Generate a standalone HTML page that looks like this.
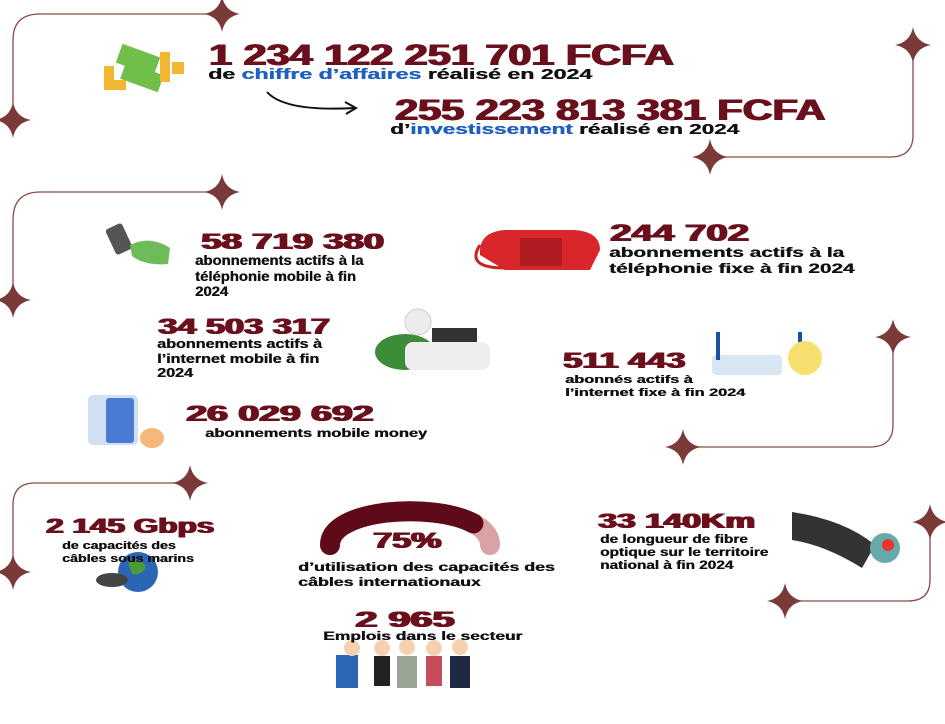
<!DOCTYPE html>
<html><head><meta charset="utf-8"><style>
body{margin:0;width:945px;height:724px;background:#fff;position:relative;overflow:hidden;font-family:"Liberation Sans",sans-serif;font-weight:bold}
.t,.n{position:absolute;white-space:nowrap;transform-origin:left top;line-height:1}
.t{color:#111;text-shadow:0.4px 0 0 #111}
.n{color:#6a0f1c;text-shadow:1px 0 0 #6a0f1c,1.6px 0 0 #6a0f1c}
.b{color:#1f5fbf;text-shadow:0.4px 0 0 #1f5fbf}
svg{position:absolute;left:0;top:0}
</style></head><body>
<svg width="945" height="724">
<defs><path id="s" d="M0,-18 Q2.8,-2.8 18,0 Q2.8,2.8 0,18 Q-2.8,2.8 -18,0 Q-2.8,-2.8 0,-18Z" fill="#7a3a38"/></defs>
<g fill="none" stroke="#8a4a48" stroke-width="1.3">
<path d="M222,14 H40 Q13,14 13,40 V120"/>
<path d="M913,45 V135 Q913,157 890,157 H710"/>
<path d="M222,192 H40 Q13,192 13,220 V300"/>
<path d="M893,337 V425 Q893,447 870,447 H683"/>
<path d="M190,483 H35 Q13,483 13,505 V572"/>
<path d="M930,522 V580 Q930,601 908,601 H785"/>
<path d="M267,92 Q285,112 355,108" stroke="#111" stroke-width="2"/>
<path d="M345,102 L356,108 L346,114" stroke="#111" stroke-width="2"/>
</g>
<use href="#s" x="222" y="14"/><use href="#s" x="13" y="120"/>
<use href="#s" x="913" y="45"/><use href="#s" x="710" y="157"/>
<use href="#s" x="222" y="192"/><use href="#s" x="13" y="300"/>
<use href="#s" x="893" y="337"/><use href="#s" x="683" y="447"/>
<use href="#s" x="190" y="483"/><use href="#s" x="13" y="572"/>
<use href="#s" x="930" y="522"/><use href="#s" x="785" y="601"/>
<!-- money -->
<rect x="118" y="50" width="40" height="20" fill="#6fbf4a" transform="rotate(20 138 60)"/>
<rect x="122" y="68" width="40" height="18" fill="#6fbf4a" transform="rotate(20 142 77)"/>
<rect x="160" y="52" width="10" height="30" fill="#f2b632"/><rect x="172" y="62" width="12" height="12" fill="#f2b632"/>
<rect x="104" y="66" width="10" height="24" fill="#f2b632"/><rect x="112" y="80" width="14" height="10" fill="#f2b632"/>
<!-- hand phone -->
<rect x="110" y="225" width="18" height="28" rx="3" fill="#555" transform="rotate(-25 119 239)"/>
<path d="M130,245 Q150,235 170,248 L168,264 Q145,266 132,256Z" fill="#6dbb5a"/>
<!-- red phone -->
<path d="M480,255 Q478,232 505,230 H575 Q600,232 600,250 L590,270 H505 Z" fill="#d8262b"/>
<rect x="520" y="238" width="42" height="28" fill="#b01c20"/>
<path d="M480,245 Q465,268 505,268" stroke="#c22" stroke-width="3" fill="none"/>
<!-- person laptop -->
<ellipse cx="405" cy="352" rx="30" ry="18" fill="#3d8c3a"/>
<circle cx="418" cy="322" r="13" fill="#ececec" stroke="#ccc"/>
<rect x="432" y="328" width="45" height="20" fill="#333"/>
<rect x="405" y="342" width="85" height="28" rx="8" fill="#eee"/>
<!-- router -->
<rect x="712" y="355" width="70" height="20" rx="4" fill="#d9e6f4"/>
<rect x="716" y="332" width="4" height="28" fill="#1b4fa0"/><rect x="798" y="332" width="4" height="28" fill="#1b4fa0"/>
<circle cx="805" cy="358" r="17" fill="#f7df70"/>
<!-- mobile money -->
<rect x="88" y="395" width="50" height="50" rx="5" fill="#cfe0f2"/>
<rect x="106" y="398" width="28" height="45" rx="3" fill="#4c7bd6"/>
<ellipse cx="152" cy="438" rx="12" ry="10" fill="#f4b87a"/>
<!-- gauge -->
<path d="M330,545 C330,500 490,500 490,545" stroke="#d9a3a6" stroke-width="20" fill="none" stroke-linecap="round"/>
<path d="M330,545 C330,509 432.4,501.8 473.4,523.4" stroke="#5e0a18" stroke-width="20" fill="none" stroke-linecap="round"/>
<!-- globe -->
<circle cx="138" cy="572" r="20" fill="#2b66b4"/><path d="M128,562 q10,-6 18,4 q-4,10 -14,8z" fill="#4a9a3a"/>
<ellipse cx="112" cy="580" rx="16" ry="7" fill="#444"/>
<!-- fiber cable -->
<path d="M792,512 Q845,520 875,545 L862,568 Q825,545 792,540Z" fill="#333"/>
<circle cx="885" cy="548" r="15" fill="#6aa"/><circle cx="888" cy="545" r="6" fill="#e33"/>
<!-- people -->
<g>
<rect x="336" y="655" width="22" height="33" fill="#2b67b5"/><circle cx="352" cy="648" r="8" fill="#f5d1b0"/>
<rect x="374" y="656" width="16" height="30" fill="#222"/><circle cx="382" cy="648" r="8" fill="#f5d1b0"/>
<rect x="397" y="656" width="20" height="32" fill="#9aa596"/><circle cx="407" cy="647" r="8" fill="#f5d1b0"/>
<rect x="426" y="656" width="16" height="30" fill="#c64c5c"/><circle cx="434" cy="648" r="8" fill="#f5d1b0"/>
<rect x="450" y="656" width="20" height="32" fill="#1e2a44"/><circle cx="460" cy="647" r="8" fill="#f5d1b0"/>
</g>
</svg>

<div class="n" style="left:208px;top:41px;font-size:30px;transform:scaleX(1.38)">1 234 122 251 701 FCFA</div>
<div class="t" style="left:208px;top:67px;font-size:15px;transform:scaleX(1.54)">de <span class="b">chiffre d’affaires</span> réalisé en 2024</div>
<div class="n" style="left:394px;top:96px;font-size:30px;transform:scaleX(1.38)">255 223 813 381 FCFA</div>
<div class="t" style="left:390px;top:122px;font-size:15px;transform:scaleX(1.5)">d’<span class="b">investissement</span> réalisé en 2024</div>

<div class="n" style="left:200px;top:231px;font-size:22px;transform:scaleX(1.66)">58 719 380</div>
<div class="t" style="left:195px;top:253px;font-size:13.5px;line-height:15.5px;transform:scaleX(1.1)">abonnements actifs à la<br>téléphonie mobile à fin<br>2024</div>

<div class="n" style="left:609px;top:222px;font-size:24px;transform:scaleX(1.6)">244 702</div>
<div class="t" style="left:609px;top:244px;font-size:14px;line-height:16px;transform:scaleX(1.48)">abonnements actifs à la<br>téléphonie fixe à fin 2024</div>

<div class="n" style="left:157px;top:316px;font-size:22px;transform:scaleX(1.56)">34 503 317</div>
<div class="t" style="left:157px;top:337px;font-size:13px;line-height:14.5px;transform:scaleX(1.24)">abonnements actifs à<br>l’internet mobile à fin<br>2024</div>

<div class="n" style="left:562px;top:350px;font-size:22px;transform:scaleX(1.56)">511 443</div>
<div class="t" style="left:565px;top:374px;font-size:11px;line-height:13px;transform:scaleX(1.48)">abonnés actifs à<br>l’internet fixe à fin 2024</div>

<div class="n" style="left:185px;top:403px;font-size:22px;transform:scaleX(1.7)">26 029 692</div>
<div class="t" style="left:205px;top:427px;font-size:12px;transform:scaleX(1.37)">abonnements mobile money</div>

<div class="n" style="left:45px;top:516px;font-size:21px;transform:scaleX(1.5)">2 145 Gbps</div>
<div class="t" style="left:62px;top:540px;font-size:11px;line-height:13px;transform:scaleX(1.29)">de capacités des<br>câbles sous marins</div>

<div class="n" style="left:372px;top:530px;font-size:22px;transform:scaleX(1.55)">75%</div>
<div class="t" style="left:298px;top:560px;font-size:12px;line-height:15px;transform:scaleX(1.48)">d’utilisation des capacités des<br>câbles internationaux</div>

<div class="n" style="left:597px;top:511px;font-size:21px;transform:scaleX(1.6)">33 140Km</div>
<div class="t" style="left:600px;top:533px;font-size:12px;line-height:13px;transform:scaleX(1.28)">de longueur de fibre<br>optique sur le territoire<br>national à fin 2024</div>

<div class="n" style="left:354px;top:609px;font-size:22px;transform:scaleX(1.8)">2 965</div>
<div class="t" style="left:323px;top:630px;font-size:12px;transform:scaleX(1.45)">Emplois dans le secteur</div>
</body></html>
